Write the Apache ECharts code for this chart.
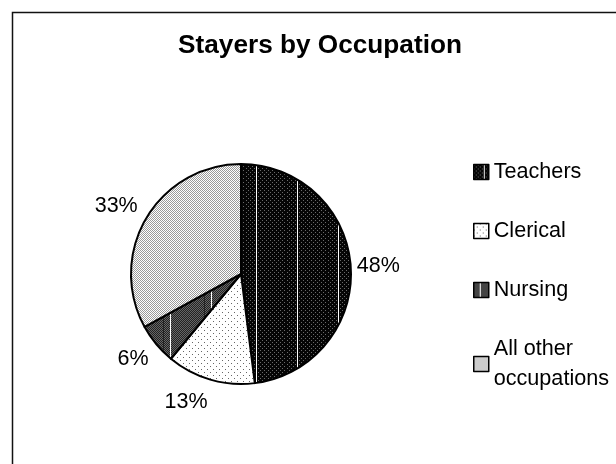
<!DOCTYPE html>
<html>
<head>
<meta charset="utf-8">
<script src="https://cdn.jsdelivr.net/npm/echarts@6/dist/echarts.min.js"></script>
<style>
  html, body { margin: 0; padding: 0; background: #fff; }
  #chart { width: 616px; height: 464px; }
</style>
</head>
<body>
<div id="chart"></div>
<script>
var occupations = ['Teachers', 'Clerical', 'Nursing', 'All other occupations'];
var shares = [48, 13, 6, 33];

// small fill patterns, like the old Excel pattern fills
function makePattern(w, h, draw) {
  var c = document.createElement('canvas');
  c.width = w;
  c.height = h;
  draw(c.getContext('2d'));
  return { image: c, repeat: 'repeat' };
}

var patTeachers = makePattern(41, 4, function (ctx) {
  ctx.fillStyle = '#050505';
  ctx.fillRect(0, 0, 41, 4);
  ctx.fillStyle = '#6a6a6a';
  for (var x = 0; x < 40; x += 4) {
    ctx.fillRect(x, 0, 1, 1);
    ctx.fillRect(x + 2, 2, 1, 1);
  }
  ctx.fillStyle = '#fff';
  ctx.fillRect(10, 0, 1, 4);
});
var patClerical = makePattern(6, 6, function (ctx) {
  ctx.fillStyle = '#fff';
  ctx.fillRect(0, 0, 6, 6);
  ctx.fillStyle = '#666';
  ctx.fillRect(0, 0, 1, 1);
  ctx.fillRect(3, 3, 1, 1);
});
var patNursing = makePattern(41, 2, function (ctx) {
  ctx.fillStyle = '#222';
  ctx.fillRect(0, 0, 41, 2);
  ctx.fillStyle = '#666';
  for (var x = 0; x < 40; x += 2) {
    ctx.fillRect(x, 0, 1, 1);
    ctx.fillRect(x + 1, 1, 1, 1);
  }
  ctx.fillStyle = '#fff';
  ctx.fillRect(6, 0, 1, 2);
});
var patOther = makePattern(2, 2, function (ctx) {
  ctx.fillStyle = '#fff';
  ctx.fillRect(0, 0, 2, 2);
  ctx.fillStyle = '#9a9a9a';
  ctx.fillRect(0, 0, 1, 1);
  ctx.fillRect(1, 1, 1, 1);
});
var fills = [patTeachers, patClerical, patNursing, patOther];

var font = "'Liberation Sans', Arial, sans-serif";

var pieData = occupations.map(function (name, i) {
  return { name: name, value: shares[i], itemStyle: { color: fills[i] } };
});

var total = shares.reduce(function (a, b) { return a + b; }, 0);

// Excel pushes labels a bit up/down depending on where the slice points
function labelNudge(p) {
  var before = 0;
  for (var i = 0; i < p.dataIndex; i++) before += shares[i];
  var mid = (before + shares[p.dataIndex] / 2) / total * 2 * Math.PI;
  var dirX = Math.sin(mid), dirY = -Math.cos(mid);
  return { dx: dirX < 0 ? dirX * 4 : 0, dy: dirY * 17 };
}

var chart = echarts.init(document.getElementById('chart'));

chart.setOption({
  animation: false,
  backgroundColor: '#fff',
  title: {
    text: 'Stayers by Occupation',
    left: 320,
    textAlign: 'center',
    top: 33,
    padding: 0,
    textStyle: { fontFamily: font, fontSize: 26.2, fontWeight: 'bold', color: '#000' }
  },
  legend: {
    orient: 'vertical',
    left: 473,
    top: 157,
    padding: 0,
    itemWidth: 15,
    itemHeight: 15,
    itemGap: 29,
    icon: 'rect',
    data: occupations,
    formatter: function (name) {
      return name === 'All other occupations' ? 'All other\noccupations' : name;
    },
    itemStyle: { borderColor: '#000', borderWidth: 1.5 },
    textStyle: { fontFamily: font, fontSize: 21.6, lineHeight: 30, color: '#000' }
  },
  graphic: [{
    type: 'rect',
    shape: { x: 12.5, y: 12.5, width: 700, height: 600 },
    style: { fill: 'none', stroke: '#111', lineWidth: 1.5 },
    silent: true
  }],
  series: [{
    type: 'pie',
    center: [241, 274],
    radius: 110,
    startAngle: 90,
    clockwise: true,
    avoidLabelOverlap: false,
    data: pieData,
    itemStyle: { borderColor: '#000', borderWidth: 2 },
    label: {
      show: true,
      position: 'outside',
      formatter: '{c}%',
      distanceToLabelLine: 0,
      fontFamily: font,
      fontSize: 21.5,
      color: '#000'
    },
    labelLine: { show: false, length: 6, length2: 0 },
    labelLayout: labelNudge,
    emphasis: { disabled: true }
  }]
});
</script>
</body>
</html>
